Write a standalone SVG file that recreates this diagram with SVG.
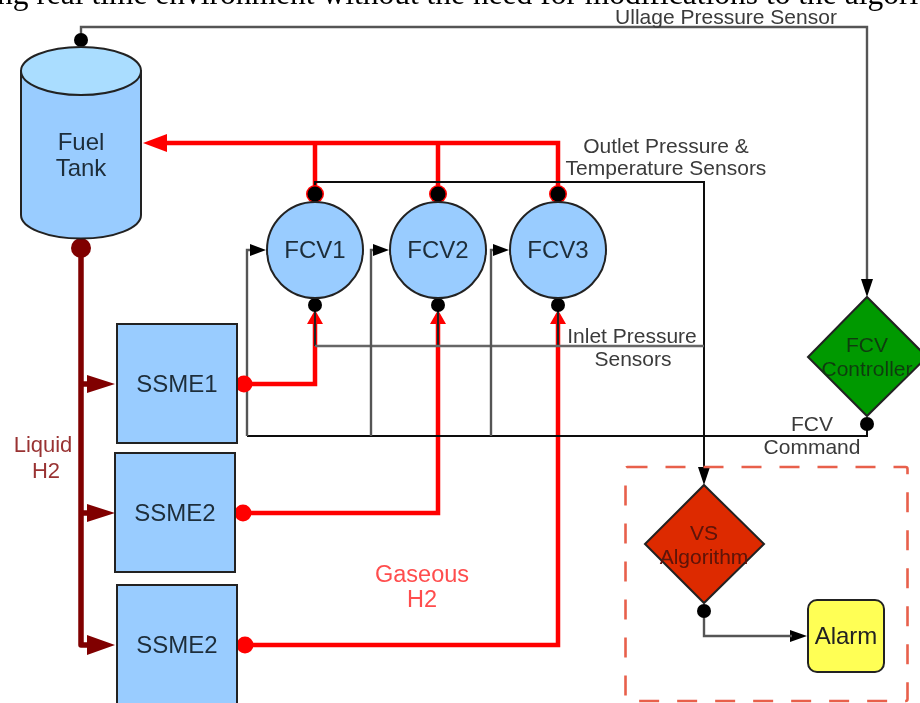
<svg xmlns="http://www.w3.org/2000/svg" width="920" height="703" viewBox="0 0 920 703">
<style>
text{font-family:"Liberation Sans",Arial,sans-serif;text-anchor:middle;fill:#1a1a1a}
.n{font-size:24px;fill:#1f2d3a}
.l{font-size:21px;fill:#3a3a3a}
.d{font-size:21px}
.shape{stroke:#222;stroke-width:2}
.blue{fill:#99ccff}
.blk{fill:none;stroke:#111;stroke-width:2}
.gry{fill:none;stroke:#555;stroke-width:2.4}
.red{fill:none;stroke:#ff0000;stroke-width:4.5}
.dot{fill:#000}
.rd{fill:#ff0000}
.dk{fill:#800000}
</style>
<defs><filter id="soft" x="-2%" y="-2%" width="104%" height="104%"><feGaussianBlur stdDeviation="0.6"/></filter></defs>
<rect width="920" height="703" fill="#fff"/>
<g filter="url(#soft)">
<text x="-3" y="4" style="font-family:'Liberation Serif',serif;font-size:31.500px;fill:#000;text-anchor:start">ng real time environment without the need for modifications to the algorit</text>
<g id="connectors">
<path class="gry" d="M81 40V27H867V280"/>
<path class="red" d="M165 143H558V190M315 143V190M438 143V190"/>
<path d="M143 143L167 134V152Z" class="rd"/>
<path class="blk" d="M315 194V182H704V470"/>
<path class="red" d="M244 384H315V320M243 513H438V320M245 645H558V320"/>
<path class="rd" d="M315 310L323 324H307ZM438 310L446 324H430ZM558 310L566 324H550Z"/>
<path d="M315 305V346M438 305V346M558 305V346" fill="none" stroke="#222" stroke-width="2"/>
<path d="M315 346H704" fill="none" stroke="#666" stroke-width="2.400"/>
<path class="blk" d="M867 424V436H247"/>
<path class="gry" d="M247 436V250H252M371 436V250H376M491 436V250H496"/>
<path class="dot" d="M266 250L250 244V256ZM389 250L373 244V256ZM509 250L493 244V256Z"/>
<path class="dot" d="M867 297L861 279H873ZM704 485L698 467H710ZM807 636L790 630V642Z"/>
<path fill="none" stroke="#800000" stroke-width="5.500" stroke-linejoin="round" d="M81 248V645H95M81 384H95M81 513H95"/>
<path class="dk" d="M115 384L87 375V393ZM115 513L87 504V522ZM115 645L87 635V655Z"/>
<path class="gry" d="M704 611V636H792"/>
<circle class="dk" cx="81" cy="248" r="10"/>
<circle class="dot" cx="81" cy="40" r="7"/>
<circle class="rd" cx="244" cy="384" r="8.500"/><circle class="rd" cx="243" cy="513" r="8.500"/><circle class="rd" cx="245" cy="645" r="8.500"/>
<circle class="rd" cx="315" cy="194" r="9"/><circle class="rd" cx="438" cy="194" r="9"/><circle class="rd" cx="558" cy="194" r="9"/>
<circle class="dot" cx="315" cy="194" r="7.500"/><circle class="dot" cx="438" cy="194" r="7.500"/><circle class="dot" cx="558" cy="194" r="7.500"/>
<circle class="dot" cx="315" cy="305" r="7"/><circle class="dot" cx="438" cy="305" r="7"/><circle class="dot" cx="558" cy="305" r="7"/>
<circle class="dot" cx="867" cy="424" r="7"/><circle class="dot" cx="704" cy="611" r="7"/>
</g>
<g id="tank">
<path class="shape blue" d="M21 71V215A60 23.500 0 0 0 141 215V71Z"/>
<ellipse class="shape" fill="#aaddff" cx="81" cy="71" rx="60" ry="24"/>
<text class="n" x="81" y="150">Fuel</text><text class="n" x="81" y="176">Tank</text>
</g>
<g id="fcv1"><circle class="shape blue" cx="315" cy="250" r="48"/><text class="n" x="315" y="258">FCV1</text></g>
<g id="fcv2"><circle class="shape blue" cx="438" cy="250" r="48"/><text class="n" x="438" y="258">FCV2</text></g>
<g id="fcv3"><circle class="shape blue" cx="558" cy="250" r="48"/><text class="n" x="558" y="258">FCV3</text></g>
<g id="ssme1"><rect class="shape blue" x="117" y="324" width="120" height="119"/><text class="n" x="177" y="392">SSME1</text></g>
<g id="ssme2a"><rect class="shape blue" x="115" y="453" width="120" height="119"/><text class="n" x="175" y="521">SSME2</text></g>
<g id="ssme2b"><rect class="shape blue" x="117" y="585" width="120" height="125"/><text class="n" x="177" y="653">SSME2</text></g>
<g id="fcv-controller"><path class="shape" fill="#009900" d="M867 297L927 357L867 416L808 357Z"/><text class="d" x="867" y="352" style="fill:#0f3d0f">FCV</text><text class="d" x="867" y="376" style="fill:#0f3d0f">Controller</text></g>
<g id="vs-algorithm"><path class="shape" fill="#dd2900" d="M704 485L764 544L704 603L645 544Z"/><text class="d" x="704" y="540" style="fill:#5a1208">VS</text><text class="d" x="704" y="564" style="fill:#5a1208">Algorithm</text></g>
<g id="alarm"><rect class="shape" fill="#ffff55" x="808" y="600" width="76" height="72" rx="9"/><text class="n" x="846" y="644" style="fill:#222">Alarm</text></g>
<rect id="vs-boundary" x="625.500" y="467" width="282" height="234" rx="2" fill="none" stroke="#e8604c" stroke-width="2.600" stroke-dasharray="20 18"/>
<g id="labels">
<text class="l" x="726" y="24">Ullage Pressure Sensor</text>
<text class="l" x="666" y="153">Outlet Pressure &amp;</text>
<text class="l" x="666" y="175">Temperature Sensors</text>
<text class="l" x="632" y="343">Inlet Pressure</text>
<text class="l" x="633" y="366">Sensors</text>
<text class="l" x="812" y="431">FCV</text>
<text class="l" x="812" y="454">Command</text>
<text x="43" y="452" style="font-size:22px;fill:#993333">Liquid</text>
<text x="46" y="478" style="font-size:22px;fill:#993333">H2</text>
<text x="422" y="582" style="font-size:23.500px;fill:#ff4d4d">Gaseous</text>
<text x="422" y="607" style="font-size:23.500px;fill:#ff4d4d">H2</text>
</g>
</g>
</svg>
